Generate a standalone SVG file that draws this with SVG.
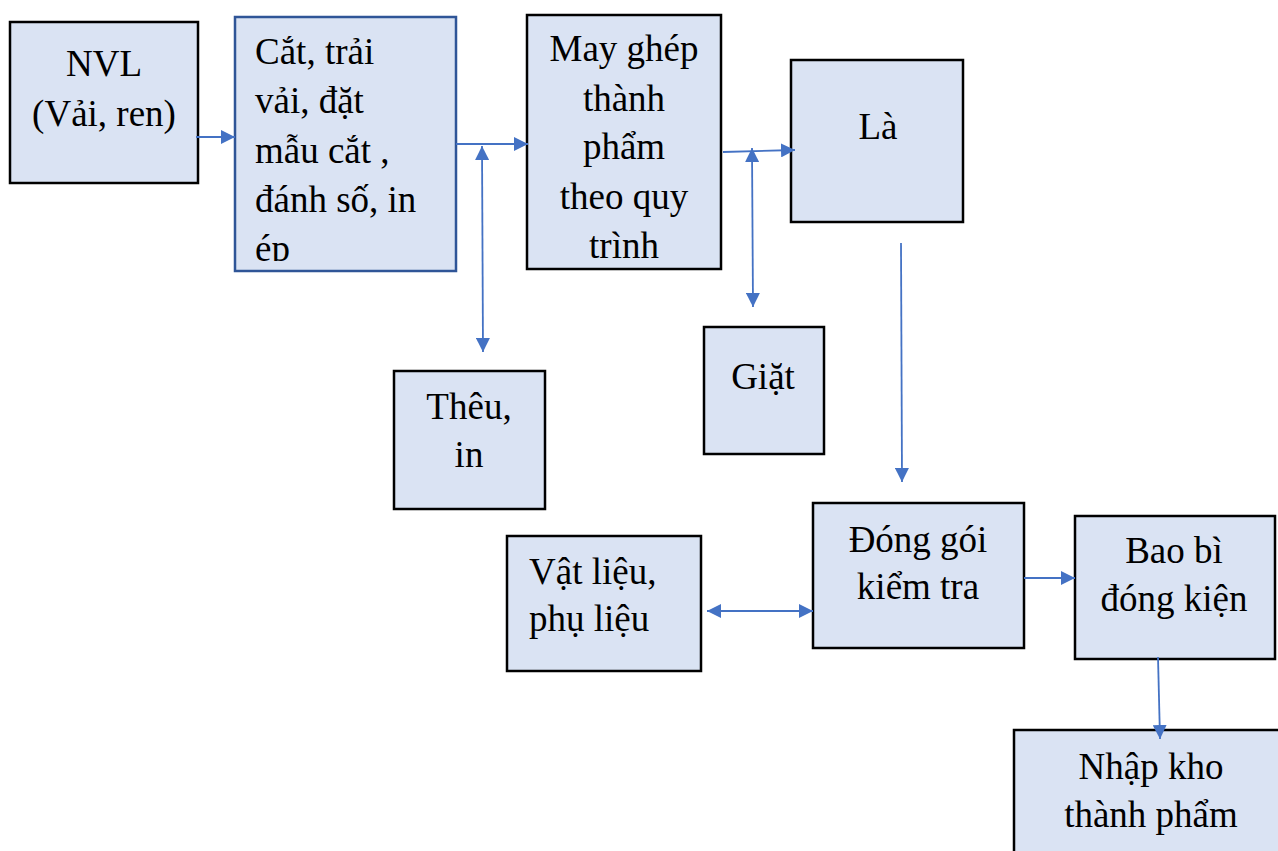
<svg xmlns="http://www.w3.org/2000/svg" width="1278" height="851" viewBox="0 0 1278 851">
<style>
.box{fill:#DAE3F3;stroke:#000;stroke-width:2.5}
.boxb{fill:#DAE3F3;stroke:#2F5597;stroke-width:2.5}
.t{font-family:"Liberation Serif","Times New Roman",serif;font-size:37px;fill:#000}
.c{text-anchor:middle}
.ln{fill:none;stroke:#4472C4;stroke-width:1.8}
</style>
<defs>
<marker id="ah" viewBox="0 0 12 12" refX="12" refY="6" markerWidth="14" markerHeight="14" markerUnits="userSpaceOnUse" orient="auto-start-reverse">
<path d="M0,0 L12,6 L0,12 z" fill="#4472C4"/>
</marker>
<clipPath id="clipCat"><rect x="236" y="18" width="219" height="243"/></clipPath>
</defs>
<rect width="1278" height="851" fill="#fff"/>
<g id="nvl">
<rect class="box" x="10" y="22" width="188" height="161"/>
<text class="t c" x="104" y="76">NVL</text>
<text class="t c" x="104" y="126">(Vải, ren)</text>
</g>
<g id="cat">
<rect class="boxb" x="235" y="17" width="221" height="254"/>
<g clip-path="url(#clipCat)">
<text class="t" x="255" y="64">Cắt, trải</text>
<text class="t" x="255" y="113">vải, đặt</text>
<text class="t" x="255" y="163">mẫu cắt ,</text>
<text class="t" x="255" y="212">đánh số, in</text>
<text class="t" x="255" y="261">ép</text>
</g>
</g>
<g id="may">
<rect class="box" x="527" y="15" width="194" height="254"/>
<text class="t c" x="624" y="61">May ghép</text>
<text class="t c" x="624" y="111">thành</text>
<text class="t c" x="624" y="159">phẩm</text>
<text class="t c" x="624" y="209">theo quy</text>
<text class="t c" x="624" y="258">trình</text>
</g>
<g id="la">
<rect class="box" x="791" y="60" width="172" height="162"/>
<text class="t c" x="878" y="139">Là</text>
</g>
<g id="theu">
<rect class="box" x="394" y="371" width="151" height="138"/>
<text class="t c" x="469" y="419">Thêu,</text>
<text class="t c" x="469" y="467">in</text>
</g>
<g id="giat">
<rect class="box" x="704" y="327" width="120" height="127"/>
<text class="t c" x="763" y="389">Giặt</text>
</g>
<g id="vatlieu">
<rect class="box" x="507" y="536" width="194" height="135"/>
<text class="t" x="529" y="584">Vật liệu,</text>
<text class="t" x="529" y="631">phụ liệu</text>
</g>
<g id="donggoi">
<rect class="box" x="813" y="503" width="211" height="145"/>
<text class="t c" x="918" y="552">Đóng gói</text>
<text class="t c" x="918" y="599">kiểm tra</text>
</g>
<g id="baobi">
<rect class="box" x="1075" y="516" width="200" height="143"/>
<text class="t c" x="1174" y="563">Bao bì</text>
<text class="t c" x="1174" y="611">đóng kiện</text>
</g>
<g id="nhapkho">
<rect class="box" x="1014" y="730" width="280" height="140"/>
<text class="t c" x="1151" y="779">Nhập kho</text>
<text class="t c" x="1151" y="827">thành phẩm</text>
</g>
<g id="connectors">
<line class="ln" x1="196" y1="137" x2="235" y2="137" marker-end="url(#ah)"/>
<line class="ln" x1="456" y1="144" x2="528" y2="144" marker-end="url(#ah)"/>
<line class="ln" x1="482" y1="146" x2="483" y2="352" marker-start="url(#ah)" marker-end="url(#ah)"/>
<line class="ln" x1="723" y1="152" x2="795" y2="150" marker-end="url(#ah)"/>
<line class="ln" x1="752" y1="148" x2="753" y2="307" marker-start="url(#ah)" marker-end="url(#ah)"/>
<line class="ln" x1="901" y1="243" x2="902" y2="482" marker-end="url(#ah)"/>
<line class="ln" x1="1024" y1="578" x2="1075" y2="578" marker-end="url(#ah)"/>
<line class="ln" x1="707" y1="611" x2="813" y2="611" marker-start="url(#ah)" marker-end="url(#ah)"/>
<line class="ln" x1="1158" y1="657" x2="1160" y2="739" marker-end="url(#ah)"/>
</g>
</svg>
